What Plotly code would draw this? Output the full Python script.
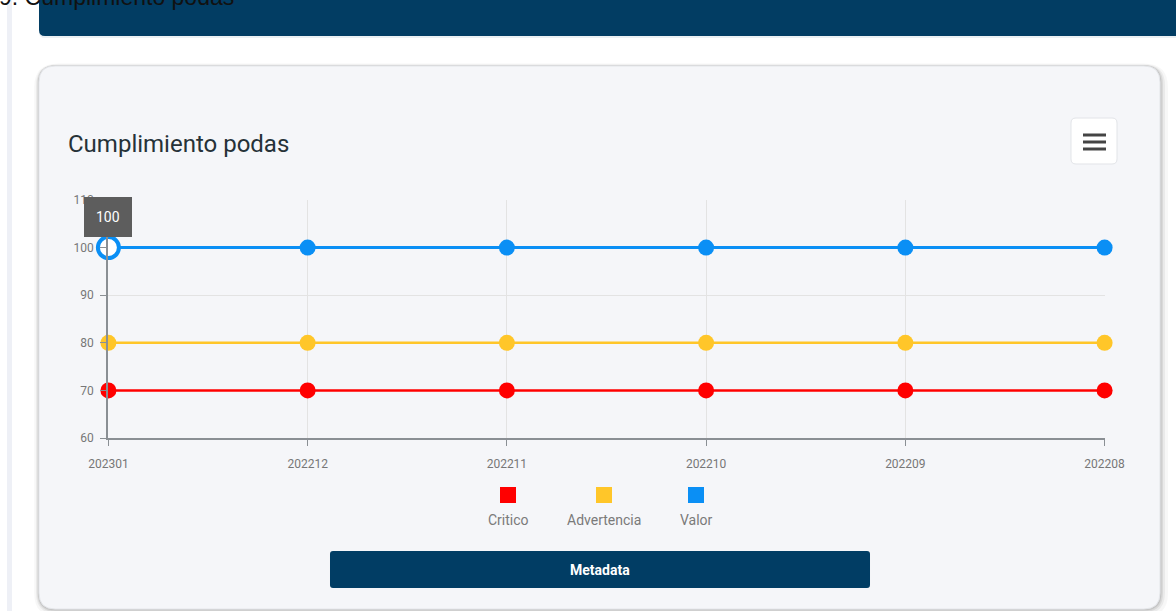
import plotly.graph_objects as go

W, H = 1176, 611

categories = ["202301", "202212", "202211", "202210", "202209", "202208"]
critico = [70, 70, 70, 70, 70, 70]
advertencia = [80, 80, 80, 80, 80, 80]
valor = [100, 100, 100, 100, 100, 100]
y_ticks = [60, 70, 80, 90, 100, 110]
series_names = ["Critico", "Advertencia", "Valor"]
series_colors = ["#FF0000", "#FFC629", "#0A8FF5"]

def px(x):
    return x / W

def py(y):
    return 1 - y / H

def rrect(x0, y0, x1, y1, r):
    # rounded rectangle path in paper coords from pixel coords
    X = lambda v: f"{px(v):.5f}"
    Y = lambda v: f"{py(v):.5f}"
    return (f"M {X(x0+r)},{Y(y0)} L {X(x1-r)},{Y(y0)} Q {X(x1)},{Y(y0)} {X(x1)},{Y(y0+r)} "
            f"L {X(x1)},{Y(y1-r)} Q {X(x1)},{Y(y1)} {X(x1-r)},{Y(y1)} "
            f"L {X(x0+r)},{Y(y1)} Q {X(x0)},{Y(y1)} {X(x0)},{Y(y1-r)} "
            f"L {X(x0)},{Y(y0+r)} Q {X(x0)},{Y(y0)} {X(x0+r)},{Y(y0)} Z")

fig = go.Figure()

data = [critico, advertencia, valor]
for name, vals, col in zip(series_names, data, series_colors):
    is_valor = name == "Valor"
    sizes = [16] * len(vals)
    fills = [col] * len(vals)
    lw = [0] * len(vals)
    if is_valor:
        sizes[0] = 21
        fills[0] = "#ffffff"
        lw[0] = 4
    fig.add_trace(go.Scatter(
        x=categories, y=vals, name=name, mode="lines+markers",
        line=dict(color=col, width=3 if is_valor else 2.5),
        marker=dict(size=sizes, color=fills, opacity=1, line=dict(color=col, width=lw)),
        cliponaxis=False, showlegend=False, hoverinfo="skip",
    ))

shapes = []
# left page strip
shapes.append(dict(type="rect", xref="paper", yref="paper", x0=px(7), x1=px(12), y0=0, y1=1,
                   fillcolor="#eef0f6", line_width=0, layer="below"))
# card shadow
for grow, op in [(8, 0.03), (5, 0.05), (3, 0.07), (1.5, 0.09)]:
    shapes.append(dict(type="path", xref="paper", yref="paper",
                       path=rrect(39 - grow * 0.6, 66 - grow * 0.3, 1160 + grow, 609 + grow, 16 + grow),
                       fillcolor=f"rgba(0,0,0,{op})", line_width=0, layer="below"))
# card
shapes.append(dict(type="path", xref="paper", yref="paper", path=rrect(39, 66, 1160, 609, 16),
                   fillcolor="#f5f6f9", line=dict(color="#e4e6ea", width=1), layer="below"))
# top dark bar shadow + bar
shapes.append(dict(type="path", xref="paper", yref="paper", path=rrect(39, 6, 1190, 38, 6),
                   fillcolor="rgba(0,60,100,0.08)", line_width=0, layer="below"))
shapes.append(dict(type="path", xref="paper", yref="paper", path=rrect(39, -10, 1190, 36, 6),
                   fillcolor="#023d63", line_width=0, layer="below"))
# hamburger button
shapes.append(dict(type="path", xref="paper", yref="paper", path=rrect(1071, 118, 1117, 164, 5),
                   fillcolor="#ffffff", line=dict(color="#e2e4e8", width=1), layer="above"))
for yy in (135, 142, 149):
    shapes.append(dict(type="line", xref="paper", yref="paper", x0=px(1083), x1=px(1106),
                       y0=py(yy), y1=py(yy), line=dict(color="#444444", width=3), layer="above"))
# Metadata button
shapes.append(dict(type="path", xref="paper", yref="paper", path=rrect(330, 551, 870, 588, 3),
                   fillcolor="#013d64", line_width=0, layer="above"))

annotations = []
# cut-off page heading
annotations.append(dict(xref="paper", yref="paper", x=px(-3), y=py(-3), xanchor="left", yanchor="middle",
                        text="9. Cumplimiento podas", showarrow=False,
                        font=dict(family="Liberation Sans, Arial", size=23, color="#111111")))
# card title
annotations.append(dict(xref="paper", yref="paper", x=px(66), y=py(144), xanchor="left", yanchor="middle",
                        text="Cumplimiento podas", showarrow=False,
                        font=dict(family="Roboto", size=24, color="#263238")))
# tooltip
annotations.append(dict(xref="x", yref="y", x=0, y=valor[0], yshift=31, text=f"{valor[0]}",
                        showarrow=False, bgcolor="#5d5d5d", borderpad=11, bordercolor="#5d5d5d",
                        font=dict(family="Roboto", size=14, color="#ffffff")))
# custom legend
leg_x = [508, 604, 696]
for name, col, cx in zip(series_names, series_colors, leg_x):
    shapes.append(dict(type="rect", xref="paper", yref="paper", x0=px(cx - 8), x1=px(cx + 8),
                       y0=py(503), y1=py(487), fillcolor=col, line_width=0))
    annotations.append(dict(xref="paper", yref="paper", x=px(cx), y=py(520), xanchor="center", yanchor="middle",
                            text=name, showarrow=False,
                            font=dict(family="Roboto", size=14, color="#7a7a7a")))
# Metadata label
annotations.append(dict(xref="paper", yref="paper", x=px(600), y=py(569.5), xanchor="center", yanchor="middle",
                        text="<b>Metadata</b>", showarrow=False,
                        font=dict(family="Roboto", size=14, color="#ffffff")))

fig.update_layout(
    width=W, height=H, margin=dict(l=0, r=0, t=0, b=0, autoexpand=False),
    paper_bgcolor="#ffffff", plot_bgcolor="rgba(0,0,0,0)",
    shapes=shapes, annotations=annotations, showlegend=False, hovermode=False,
    xaxis=dict(domain=[px(108), px(1105)], type="category", range=[-0.002, len(categories) - 1 + 0.002],
               showgrid=True, gridcolor="#e3e3e3", gridwidth=1,
               showline=True, linecolor="#8a8f94", linewidth=1.5,
               ticks="outside", ticklen=6, tickcolor="#8a8f94", automargin=False, ticklabelstandoff=8,
               tickfont=dict(family="Roboto", size=12, color="#777777"), zeroline=False, fixedrange=True),
    yaxis=dict(domain=[py(438), py(200)], range=[60, 110], tickvals=y_ticks,
               showgrid=True, gridcolor="#e3e3e3", gridwidth=1,
               showline=True, linecolor="#8a8f94", linewidth=1.5,
               ticks="outside", ticklen=6, tickcolor="#8a8f94", automargin=False, ticklabelstandoff=4,
               tickfont=dict(family="Roboto", size=12, color="#777777"), zeroline=False, fixedrange=True),
)

fig.write_html("out.html", config={"displayModeBar": False},
               post_script="document.body.style.margin='0px';document.body.style.overflow='hidden';")
